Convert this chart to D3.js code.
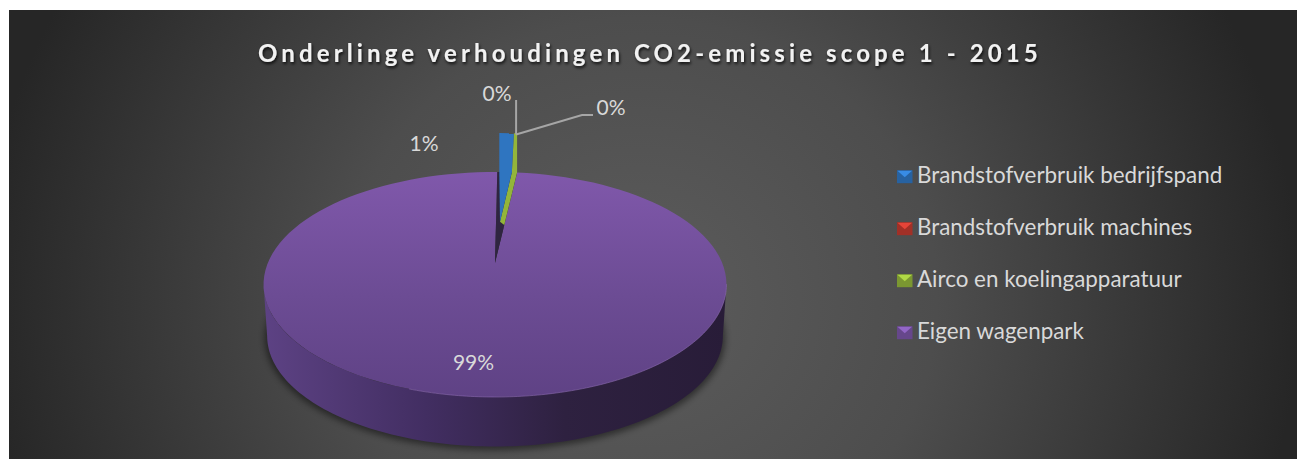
<!DOCTYPE html>
<html>
<head>
<meta charset="utf-8">
<script src="https://cdn.jsdelivr.net/npm/d3@7"></script>
<style>
  html, body { margin: 0; padding: 0; background: #fff; }
  svg { display: block; }
</style>
</head>
<body>
<div id="chart"></div>
<script>
// Chart values (percent of total)
const categories = ["Brandstofverbruik bedrijfspand", "Brandstofverbruik machines", "Airco en koelingapparatuur", "Eigen wagenpark"];
const values = [1.05, 0.01, 0.34, 98.6];
const colors = ["#2f75c0", "#c0392f", "#93b53a", "#7a55a6"];
const titleText = "Onderlinge verhoudingen CO2-emissie scope 1 - 2015";

const width = 1297, height = 459;
const frame = { left: 9, top: 10, right: 1297, bottom: 459 };

const svg = d3.select("#chart").append("svg")
  .attr("width", width)
  .attr("height", height);

const defs = svg.append("defs");

// Background glow
const bgGrad = defs.append("radialGradient")
  .attr("id", "bg")
  .attr("gradientUnits", "userSpaceOnUse")
  .attr("cx", 640).attr("cy", 300).attr("r", 660)
  .attr("gradientTransform", "translate(640 300) scale(1 0.95) translate(-640 -300)");
bgGrad.append("stop").attr("offset", "0%").attr("stop-color", "#5c5c5c");
bgGrad.append("stop").attr("offset", "45%").attr("stop-color", "#4d4d4d");
bgGrad.append("stop").attr("offset", "100%").attr("stop-color", "#262626");

const topGrad = defs.append("linearGradient")
  .attr("id", "topFace").attr("x1", 0).attr("y1", 0).attr("x2", 0).attr("y2", 1);
topGrad.append("stop").attr("offset", "0%").attr("stop-color", "#8058ab");
topGrad.append("stop").attr("offset", "55%").attr("stop-color", "#6c4c94");
topGrad.append("stop").attr("offset", "100%").attr("stop-color", "#5f4285");

const wallGrad = defs.append("linearGradient")
  .attr("id", "wall").attr("x1", 0).attr("y1", 0).attr("x2", 1).attr("y2", 0);
wallGrad.append("stop").attr("offset", "0%").attr("stop-color", "#5d4284");
wallGrad.append("stop").attr("offset", "35%").attr("stop-color", "#422e62");
wallGrad.append("stop").attr("offset", "65%").attr("stop-color", "#2e2140");
wallGrad.append("stop").attr("offset", "100%").attr("stop-color", "#281c38");

const blur = defs.append("filter").attr("id", "soft")
  .attr("x", "-10%").attr("y", "-10%").attr("width", "120%").attr("height", "130%");
blur.append("feGaussianBlur").attr("stdDeviation", 3);

const textShadow = defs.append("filter").attr("id", "titleShadow")
  .attr("x", "-5%").attr("y", "-30%").attr("width", "110%").attr("height", "170%");
textShadow.append("feDropShadow")
  .attr("dx", 1).attr("dy", 2).attr("stdDeviation", 1.5)
  .attr("flood-color", "#000").attr("flood-opacity", 0.8);

svg.append("rect")
  .attr("x", frame.left).attr("y", frame.top)
  .attr("width", frame.right - frame.left)
  .attr("height", frame.bottom - frame.top)
  .attr("fill", "url(#bg)");

svg.append("text")
  .attr("x", 650).attr("y", 62)
  .attr("text-anchor", "middle")
  .attr("filter", "url(#titleShadow)")
  .style("font-family", "Lato, sans-serif")
  .style("font-size", "24px")
  .style("font-weight", "bold")
  .style("letter-spacing", "4.12px")
  .style("fill", "#f2f2f2")
  .text(titleText);

// Pie geometry: a disc seen in perspective
const pieX = 495, pieY = 263;
const depth = 52;
const persp = 0.191;
const yScale = d3.scaleLinear().domain([0, 1]).range([0, -108.4]);
const xScale = d3.scaleLinear().domain([0, 1]).range([0, 227.2]);

// angle runs clockwise from the back of the pie, radius 0..1
function project(angle, r, dx = 0, dy = 0) {
  const u = r * Math.sin(angle), v = r * Math.cos(angle);
  const w = 1 + persp * v;
  return [pieX + xScale(u / w) + dx, pieY + yScale(v / w) + dy];
}

const arcs = d3.pie().sort(null).value(d => d)(values);
const rimLine = d3.line();

function rim(a0, a1, dx = 0, dy = 0, shrink = 1) {
  return d3.range(0, 121).map(i => project(a0 + (a1 - a0) * i / 120, shrink, dx, dy));
}

const notchPad = 0.016;
const tilt = 0.012;
const blueArc = arcs[0], purpleArc = arcs[3];
const purple0 = purpleArc.startAngle + notchPad + tilt, purple1 = purpleArc.endAngle + tilt;

// shadow under the disc
svg.append("path")
  .attr("d", rimLine(rim(0, 2 * Math.PI, 0, depth + 2, 0.995)) + "Z")
  .attr("fill", "#000")
  .attr("opacity", 0.45)
  .attr("filter", "url(#soft)");

// side wall: front half of the top rim joined to the front half of the bottom rim
const frontStart = Math.PI / 2 + 0.19, frontEnd = 3 * Math.PI / 2 - 0.19;
svg.append("path")
  .attr("d", rimLine(rim(frontStart, frontEnd).concat(rim(frontStart, frontEnd, 0, depth, 0.985).reverse())) + "Z")
  .attr("fill", "url(#wall)");

// top face of the big slice
const apex = project(0, 0);
const purplePath = rimLine([apex].concat(rim(purple0, purple1))) + "Z";
svg.append("path")
  .attr("d", purplePath)
  .attr("fill", "url(#topFace)");

// light edge along the front rim
svg.append("path")
  .attr("d", rimLine(rim(Math.PI / 2 + 0.19, Math.PI * 1.1)))
  .attr("fill", "none")
  .attr("stroke", "#8a68b3")
  .attr("stroke-opacity", 0.6)
  .attr("stroke-width", 1);

// dark cut in the big slice
const notchEdgeR = project(purple0, 1);
const notchEdgeL = project(tilt, 1);
svg.append("path")
  .attr("d", rimLine([apex, notchEdgeL, notchEdgeR]) + "Z")
  .attr("fill", "#2f2540");

// exploded slices
const lift = -39, shiftX = 2;
const greenOuter1 = project(purple0, 1);
const blueOuter0 = project(blueArc.startAngle + tilt, 1, shiftX);
const blueOuter1 = project(blueArc.endAngle + tilt, 1, shiftX);
const blueLow = project(0, 0.41, 5);
const greenLow = d3.interpolateArray(apex, greenOuter1)(0.42);

svg.append("path")
  .attr("d", rimLine([
    [blueOuter1[0] + 2, blueOuter1[1] + lift],
    [greenOuter1[0], greenOuter1[1] + lift],
    greenOuter1,
    greenLow,
    blueLow,
    blueOuter1
  ]) + "Z")
  .attr("fill", colors[2]);

svg.append("path")
  .attr("d", rimLine([
    [blueOuter0[0], blueOuter0[1] + lift],
    [blueOuter1[0] + 2, blueOuter1[1] + lift],
    blueOuter1,
    blueLow,
    blueOuter0
  ]) + "Z")
  .attr("fill", colors[0]);

// leader lines
const leaderStart = [greenOuter1[0] - 1, greenOuter1[1] + lift + 1];
const leader = d3.line();
svg.append("path")
  .attr("d", leader([leaderStart, [leaderStart[0], 100]]))
  .attr("fill", "none").attr("stroke", "#a6a6a6").attr("stroke-width", 2);
svg.append("path")
  .attr("d", leader([leaderStart, [582, 115], [593, 115]]))
  .attr("fill", "none").attr("stroke", "#a6a6a6").attr("stroke-width", 2);

// data labels
const pct = d3.format(".0f");
const labelPos = [[424, 151], [497, 101], [611, 115], [473.5, 370]];
const labelRows = values.map((v, i) => ({ v, pos: labelPos[i] }));

svg.selectAll(".pct")
  .data(labelRows)
  .join("text")
  .attr("class", "pct")
  .attr("x", d => d.pos[0])
  .attr("y", d => d.pos[1])
  .attr("text-anchor", "middle")
  .style("font-family", "Lato, sans-serif")
  .style("font-size", "21px")
  .style("fill", "#d9d9d9")
  .text(d => pct(d.v) + "%");

// legend
const legendY = d3.scalePoint().domain(categories).range([176.7, 332.7]);
const legend = svg.selectAll(".legend-row")
  .data(categories)
  .join("g")
  .attr("class", "legend-row")
  .attr("transform", d => `translate(897, ${legendY(d)})`);

legend.append("rect")
  .attr("x", 0).attr("y", -6.5)
  .attr("width", 15.5).attr("height", 13)
  .attr("fill", (d, i) => d3.color(colors[i]).darker(0.5));

legend.append("path")
  .attr("d", d3.line()([[0.5, -6], [15, -6], [7.75, 0.5]]) + "Z")
  .attr("fill", (d, i) => d3.color(colors[i]).brighter(0.5));

legend.append("text")
  .attr("x", 20).attr("y", 6)
  .style("font-family", "Lato, sans-serif")
  .style("font-size", "22.4px")
  .style("fill", "#d9d9d9")
  .text(d => d);
</script>
</body>
</html>
